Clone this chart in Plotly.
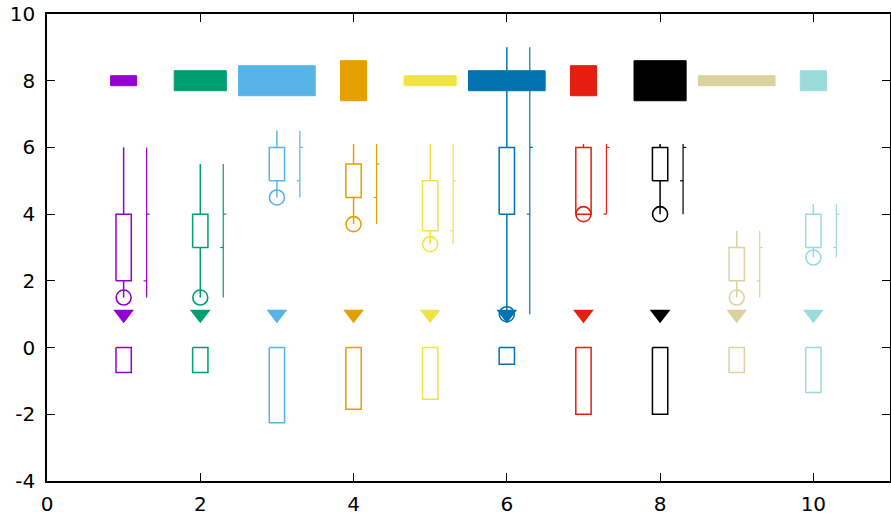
import plotly.graph_objects as go

# ---- data ----
xs = [1, 2, 3, 4, 5, 6, 7, 8, 9, 10]
colors = ["#9400D3", "#009E73", "#56B4E9", "#E69F00", "#F0E442",
          "#0072B2", "#E51E10", "#000000", "#DAD39E", "#9ADCDC"]

rect_y = [8, 8, 8, 8, 8, 8, 8, 8, 8, 8]
rect_dx = [0.17, 0.34, 0.5, 0.17, 0.34, 0.5, 0.17, 0.34, 0.5, 0.17]
rect_dy = [0.15, 0.3, 0.45, 0.6, 0.15, 0.3, 0.45, 0.6, 0.15, 0.3]

open_v = [2, 3, 5, 4.5, 3.5, 4, 4, 5, 2, 3]
close_v = [4, 4, 6, 5.5, 5, 6, 6, 6, 3, 4]
low_v = [1.5, 1.5, 4.5, 3.7, 3.1, 1, 4, 4, 1.5, 2.7]
high_v = [6, 5.5, 6.5, 6.1, 6.1, 9, 6.1, 6.1, 3.5, 4.3]

tri_y = [1, 1, 1, 1, 1, 1, 1, 1, 1, 1]
box_v = [-0.75, -0.75, -2.25, -1.85, -1.55, -0.5, -2, -2, -0.75, -1.35]

x_ticks = [0, 2, 4, 6, 8, 10]
y_ticks = [-4, -2, 0, 2, 4, 6, 8, 10]

# ---- style constants ----
CANDLE_HW = 0.1
BOX_HW = 0.1
FIN_OFF = 0.3
FIN_TICK = 0.04
FONT = "DejaVu Sans"

fig = go.Figure()

for i, x in enumerate(xs):
    c = colors[i]
    # filled rectangles (boxxyerror)
    x0, x1 = x - rect_dx[i], x + rect_dx[i]
    y0, y1 = rect_y[i] - rect_dy[i], rect_y[i] + rect_dy[i]
    fig.add_trace(go.Scatter(x=[x0, x1, x1, x0, x0], y=[y0, y0, y1, y1, y0],
                             mode="lines", fill="toself", fillcolor=c,
                             line=dict(color=c, width=1), hoverinfo="skip"))

for i, x in enumerate(xs):
    c = colors[i]
    lo = min(open_v[i], close_v[i])
    hi = max(open_v[i], close_v[i])
    # candlestick
    cx = [x - CANDLE_HW, x + CANDLE_HW, x + CANDLE_HW, x - CANDLE_HW, x - CANDLE_HW, None,
          x, x, None, x, x]
    cy = [lo, lo, hi, hi, lo, None, hi, high_v[i], None, lo, low_v[i]]
    fig.add_trace(go.Scatter(x=cx, y=cy, mode="lines",
                             line=dict(color=c, width=1.5), hoverinfo="skip"))
    # financebar
    fx = x + FIN_OFF
    fxs = [fx, fx, None, fx - FIN_TICK, fx, None, fx, fx + FIN_TICK]
    fys = [low_v[i], high_v[i], None, open_v[i], open_v[i], None, close_v[i], close_v[i]]
    fig.add_trace(go.Scatter(x=fxs, y=fys, mode="lines",
                             line=dict(color=c, width=1.2), hoverinfo="skip"))
    # lower open boxes
    bx = [x - BOX_HW, x + BOX_HW, x + BOX_HW, x - BOX_HW, x - BOX_HW]
    by = [0, 0, box_v[i], box_v[i], 0]
    fig.add_trace(go.Scatter(x=bx, y=by, mode="lines",
                             line=dict(color=c, width=1.5), hoverinfo="skip"))

# triangles
fig.add_trace(go.Scatter(x=xs, y=tri_y, mode="markers",
                         marker=dict(symbol="triangle-down", size=18, color=colors,
                                     line=dict(width=0)), hoverinfo="skip"))
# circles at low values
fig.add_trace(go.Scatter(x=xs, y=low_v, mode="markers",
                         marker=dict(symbol="circle-open", size=15, color=colors,
                                     line=dict(width=1.6)), hoverinfo="skip"))

axis_common = dict(showgrid=False, zeroline=False, showline=True, linecolor="black",
                   linewidth=1.5, mirror="ticks", ticks="inside", ticklen=8,
                   tickcolor="black", tickwidth=1, automargin=False,
                   tickfont=dict(family=FONT, size=20, color="black"))

fig.update_layout(
    width=891, height=514,
    margin=dict(l=47, r=1, t=14, b=33, autoexpand=False),
    paper_bgcolor="white", plot_bgcolor="white",
    showlegend=False,
    xaxis=dict(range=[0, 11], tickvals=x_ticks, ticktext=[str(v) for v in x_ticks],
               ticklabelstandoff=4, **axis_common),
    yaxis=dict(range=[-4, 10], tickvals=y_ticks, ticktext=[str(v) for v in y_ticks],
               ticklabelstandoff=6, **axis_common),
)

fig.write_html("out.html", config={"displayModeBar": False},
               post_script="document.body.style.margin='0';document.body.style.overflow='hidden';")
